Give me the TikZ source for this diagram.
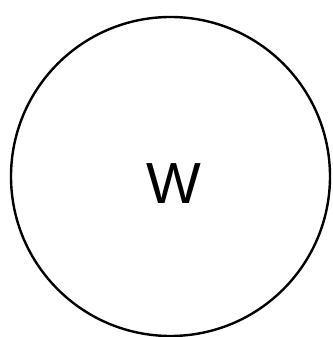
\documentclass[tikz,border=0pt]{standalone}
\usepackage{fontspec}
\setmainfont{Liberation Sans}
\begin{document}
\begin{tikzpicture}[x=1pt,y=1pt,
  ring/.style={draw=black,line width=2.4pt,circle,minimum size=319pt,inner sep=0pt},
  label/.style={inner sep=0pt,font=\fontsize{58}{60}\selectfont}]
\useasboundingbox (0,0) rectangle (332,337);
\node[ring] (c) at (170.5,160.5) {};
\node[label] (w) at (174,153) {W};
\end{tikzpicture}
\end{document}
